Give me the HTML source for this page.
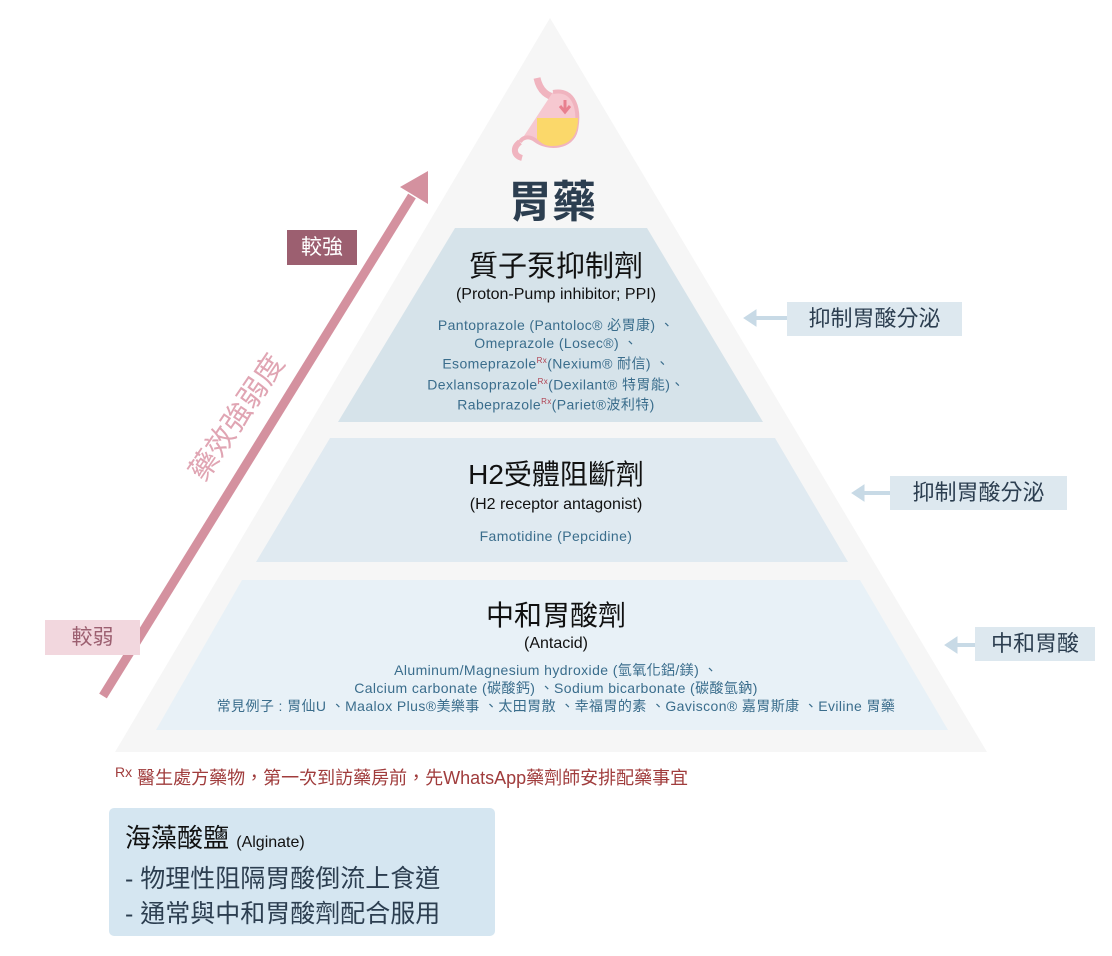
<!DOCTYPE html>
<html><head><meta charset="utf-8"><style>
body{margin:0;width:1112px;height:956px;background:#fff;position:relative;overflow:hidden;font-family:"Liberation Sans","Noto Sans CJK TC",sans-serif}
.t{position:absolute;white-space:nowrap;text-align:center}
.c{left:0;width:1112px}
.blue{color:#3a6d8c;font-size:14px;line-height:18px;letter-spacing:0.4px}
.lab{position:absolute;background:#dde8ef;color:#2c3e50;font-size:22px;line-height:34px;text-align:center}
</style></head><body>
<svg width="1112" height="956" style="position:absolute;left:0;top:0">
<polygon points="550,18 115,752 987,752" fill="#f6f6f6"/>
<polygon points="455,228 647,228 763,422 338,422" fill="#d6e3ea"/>
<polygon points="330,438 775,438 848,562 256,562" fill="#e0eaf1"/>
<polygon points="242,580 860,580 948,730 156,730" fill="#e8f1f7"/>
<line x1="103" y1="696" x2="412" y2="196" stroke="#d4919f" stroke-width="9"/>
<polygon points="428,171 428,204 400,187" fill="#d4919f"/>
<g fill="#c8dae6" stroke="#c8dae6"><line x1="752" y1="318" x2="787" y2="318" stroke-width="4"/><polygon points="744,318 756,310 756,326"/>
<line x1="860" y1="493" x2="890" y2="493" stroke-width="4"/><polygon points="852,493 864,485 864,501"/>
<line x1="953" y1="645" x2="975" y2="645" stroke-width="4"/><polygon points="945,645 957,637 957,653"/></g>
<path d="M537,78 C540,92 548,96 556,98" stroke="#f0b4bf" stroke-width="7" fill="none"/>
<path d="M553,92 C575,88 580,110 576,130 C572,148 548,150 535,140 C528,135 522,138 520,142" stroke="#f0b4bf" stroke-width="4" fill="#f6c8d0"/>
<path d="M537,118 L578,118 C578,138 568,146 552,146 C544,146 540,142 537,139 Z" fill="#fbd86a"/>
<path d="M520,142 C512,148 514,156 522,158" stroke="#f0b4bf" stroke-width="6" fill="none"/>
<path d="M565,100 L565,110 M560,106 L565,112 L570,106" stroke="#e8808f" stroke-width="3" fill="none"/>
</svg>
<div class="t c" style="top:166px;font-size:44px;font-weight:bold;color:#2c3e50;left:-4px">胃藥</div>
<div class="t c" style="top:243px;font-size:29px;color:#111">質子泵抑制劑</div>
<div class="t c" style="top:286px;font-size:16px;color:#111">(Proton-Pump inhibitor; PPI)</div>
<div class="t c blue" style="top:316px">Pantoprazole (Pantoloc® 必胃康) 、<br>Omeprazole (Losec®) 、<br>Esomeprazole<sup style="color:#b04050;font-size:8px">Rx</sup>(Nexium® 耐信) 、<br>Dexlansoprazole<sup style="color:#b04050;font-size:8px">Rx</sup>(Dexilant® 特胃能)、<br>Rabeprazole<sup style="color:#b04050;font-size:8px">Rx</sup>(Pariet®波利特)</div>
<div class="t c" style="top:453px;font-size:28px;color:#111">H2受體阻斷劑</div>
<div class="t c" style="top:496px;font-size:16px;color:#111">(H2 receptor antagonist)</div>
<div class="t c blue" style="top:527px">Famotidine (Pepcidine)</div>
<div class="t c" style="top:594px;font-size:28px;color:#111">中和胃酸劑</div>
<div class="t c" style="top:635px;font-size:16px;color:#111">(Antacid)</div>
<div class="t c blue" style="top:661px">Aluminum/Magnesium hydroxide (氫氧化鋁/鎂) 、<br>Calcium carbonate (碳酸鈣) 、Sodium bicarbonate (碳酸氫鈉)<br>常見例子 : 胃仙U 、Maalox Plus®美樂事 、太田胃散 、幸福胃的素 、Gaviscon® 嘉胃斯康 、Eviline 胃藥</div>
<div class="lab" style="left:787px;top:302px;width:175px">抑制胃酸分泌</div>
<div class="lab" style="left:890px;top:476px;width:177px">抑制胃酸分泌</div>
<div class="lab" style="left:975px;top:627px;width:120px">中和胃酸</div>
<div class="t" style="left:287px;top:230px;width:70px;height:35px;line-height:35px;background:#9c5f70;color:#fff;font-size:21px">較強</div>
<div class="t" style="left:45px;top:620px;width:95px;height:35px;line-height:35px;background:#f2d7de;color:#9c5f70;font-size:21px">較弱</div>
<div class="t" style="left:155px;top:395px;width:160px;font-size:29px;color:#e0a5b3;transform:rotate(-56deg)">藥效強弱度</div>
<div class="t" style="left:115px;top:764px;font-size:18px;color:#a03c3c;text-align:left"><span style="font-size:14px;vertical-align:7px">Rx</span> 醫生處方藥物，第一次到訪藥房前，先WhatsApp藥劑師安排配藥事宜</div>
<div style="position:absolute;left:109px;top:808px;width:386px;height:128px;background:#d5e6f1;border-radius:5px"></div>
<div class="t" style="left:125px;top:818px;font-size:26px;color:#111;text-align:left">海藻酸鹽 <span style="font-size:16px">(Alginate)</span></div>
<div class="t" style="left:125px;top:862px;font-size:25px;color:#2c3e50;text-align:left;line-height:35px">- 物理性阻隔胃酸倒流上食道<br>- 通常與中和胃酸劑配合服用</div>
</body></html>
